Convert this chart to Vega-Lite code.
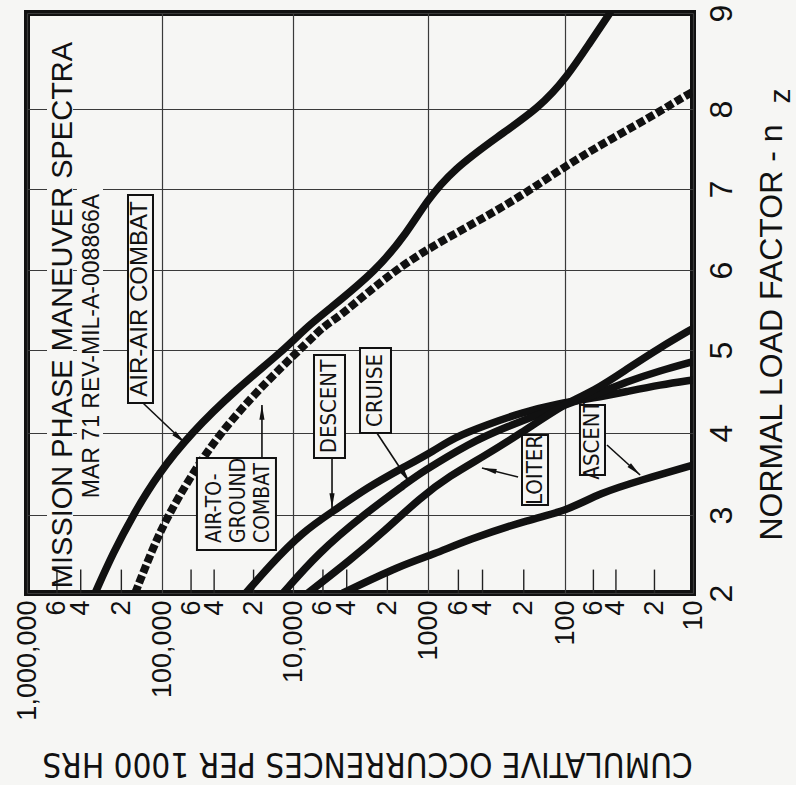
{
  "$schema": "https://vega.github.io/schema/vega-lite/v6.json",
  "width": 666,
  "height": 580,
  "autosize": {"type": "none"},
  "padding": {"left": 27, "top": 13, "right": 103, "bottom": 192},
  "background": "#f6f6f4",
  "config": {"view": {"stroke": "#111111", "strokeWidth": 6}, "font": "Liberation Sans"},
  "datasets": {
    "curves": [
      {"s": "AIR-AIR COMBAT", "N": 313000, "n": 2.0},
      {"s": "AIR-AIR COMBAT", "N": 230700, "n": 2.51},
      {"s": "AIR-AIR COMBAT", "N": 164000, "n": 3.0},
      {"s": "AIR-AIR COMBAT", "N": 107000, "n": 3.5},
      {"s": "AIR-AIR COMBAT", "N": 60000, "n": 4.0},
      {"s": "AIR-AIR COMBAT", "N": 27500, "n": 4.52},
      {"s": "AIR-AIR COMBAT", "N": 11700, "n": 5.0},
      {"s": "AIR-AIR COMBAT", "N": 8130, "n": 5.27},
      {"s": "AIR-AIR COMBAT", "N": 5500, "n": 5.5},
      {"s": "AIR-AIR COMBAT", "N": 2390, "n": 6.0},
      {"s": "AIR-AIR COMBAT", "N": 1430, "n": 6.46},
      {"s": "AIR-AIR COMBAT", "N": 1016, "n": 6.86},
      {"s": "AIR-AIR COMBAT", "N": 658, "n": 7.24},
      {"s": "AIR-AIR COMBAT", "N": 313, "n": 7.65},
      {"s": "AIR-AIR COMBAT", "N": 152, "n": 8.02},
      {"s": "AIR-AIR COMBAT", "N": 97, "n": 8.33},
      {"s": "AIR-AIR COMBAT", "N": 64, "n": 8.69},
      {"s": "AIR-AIR COMBAT", "N": 44.5, "n": 9.0},
      {"s": "AIR-TO-GROUND COMBAT", "N": 158000, "n": 2.0},
      {"s": "AIR-TO-GROUND COMBAT", "N": 118600, "n": 2.55},
      {"s": "AIR-TO-GROUND COMBAT", "N": 91600, "n": 2.97},
      {"s": "AIR-TO-GROUND COMBAT", "N": 61000, "n": 3.46},
      {"s": "AIR-TO-GROUND COMBAT", "N": 38000, "n": 3.95},
      {"s": "AIR-TO-GROUND COMBAT", "N": 20500, "n": 4.44},
      {"s": "AIR-TO-GROUND COMBAT", "N": 12300, "n": 4.79},
      {"s": "AIR-TO-GROUND COMBAT", "N": 7900, "n": 5.09},
      {"s": "AIR-TO-GROUND COMBAT", "N": 5800, "n": 5.31},
      {"s": "AIR-TO-GROUND COMBAT", "N": 4600, "n": 5.41},
      {"s": "AIR-TO-GROUND COMBAT", "N": 2760, "n": 5.73},
      {"s": "AIR-TO-GROUND COMBAT", "N": 1290, "n": 6.16},
      {"s": "AIR-TO-GROUND COMBAT", "N": 518, "n": 6.53},
      {"s": "AIR-TO-GROUND COMBAT", "N": 213, "n": 6.9},
      {"s": "AIR-TO-GROUND COMBAT", "N": 97, "n": 7.3},
      {"s": "AIR-TO-GROUND COMBAT", "N": 42, "n": 7.64},
      {"s": "AIR-TO-GROUND COMBAT", "N": 19, "n": 7.95},
      {"s": "AIR-TO-GROUND COMBAT", "N": 11.1, "n": 8.15},
      {"s": "AIR-TO-GROUND COMBAT", "N": 10, "n": 8.18},
      {"s": "DESCENT", "N": 22900, "n": 2.0},
      {"s": "DESCENT", "N": 15500, "n": 2.33},
      {"s": "DESCENT", "N": 8580, "n": 2.78},
      {"s": "DESCENT", "N": 4890, "n": 3.06},
      {"s": "DESCENT", "N": 2780, "n": 3.34},
      {"s": "DESCENT", "N": 1560, "n": 3.57},
      {"s": "DESCENT", "N": 889, "n": 3.79},
      {"s": "DESCENT", "N": 658, "n": 3.94},
      {"s": "DESCENT", "N": 371, "n": 4.1},
      {"s": "DESCENT", "N": 213, "n": 4.24},
      {"s": "DESCENT", "N": 109, "n": 4.36},
      {"s": "DESCENT", "N": 60, "n": 4.42},
      {"s": "DESCENT", "N": 32.8, "n": 4.5},
      {"s": "DESCENT", "N": 18.1, "n": 4.58},
      {"s": "DESCENT", "N": 10, "n": 4.64},
      {"s": "CRUISE", "N": 11900, "n": 2.0},
      {"s": "CRUISE", "N": 6530, "n": 2.51},
      {"s": "CRUISE", "N": 3030, "n": 3.0},
      {"s": "CRUISE", "N": 1406, "n": 3.4},
      {"s": "CRUISE", "N": 1146, "n": 3.51},
      {"s": "CRUISE", "N": 493, "n": 3.88},
      {"s": "CRUISE", "N": 284, "n": 4.06},
      {"s": "CRUISE", "N": 97, "n": 4.35},
      {"s": "CRUISE", "N": 60, "n": 4.45},
      {"s": "CRUISE", "N": 32.8, "n": 4.62},
      {"s": "CRUISE", "N": 18.1, "n": 4.75},
      {"s": "CRUISE", "N": 10, "n": 4.86},
      {"s": "LOITER", "N": 7740, "n": 2.0},
      {"s": "LOITER", "N": 3780, "n": 2.42},
      {"s": "LOITER", "N": 2080, "n": 2.8},
      {"s": "LOITER", "N": 1146, "n": 3.21},
      {"s": "LOITER", "N": 690, "n": 3.48},
      {"s": "LOITER", "N": 397, "n": 3.71},
      {"s": "LOITER", "N": 213, "n": 3.99},
      {"s": "LOITER", "N": 97, "n": 4.37},
      {"s": "LOITER", "N": 60, "n": 4.5},
      {"s": "LOITER", "N": 32.8, "n": 4.77},
      {"s": "LOITER", "N": 18.1, "n": 5.03},
      {"s": "LOITER", "N": 10, "n": 5.27},
      {"s": "ASCENT", "N": 4260, "n": 2.0},
      {"s": "ASCENT", "N": 1610, "n": 2.35},
      {"s": "ASCENT", "N": 890, "n": 2.5},
      {"s": "ASCENT", "N": 519, "n": 2.68},
      {"s": "ASCENT", "N": 177, "n": 2.95},
      {"s": "ASCENT", "N": 97, "n": 3.05},
      {"s": "ASCENT", "N": 53, "n": 3.27},
      {"s": "ASCENT", "N": 26, "n": 3.42},
      {"s": "ASCENT", "N": 10, "n": 3.61}
    ],
    "ticks": [
      {"v": 600000}, {"v": 400000}, {"v": 200000},
      {"v": 60000}, {"v": 40000}, {"v": 20000},
      {"v": 6000}, {"v": 4000}, {"v": 2000},
      {"v": 600}, {"v": 400}, {"v": 200},
      {"v": 60}, {"v": 40}, {"v": 20}
    ],
    "masks": [
      {"id": "title", "N1": 711000, "N2": 456000, "n1": 2.05, "n2": 8.72},
      {"id": "spec", "N1": 426600, "N2": 273500, "n1": 3.06, "n2": 7.05}
    ],
    "boxes": [
      {"id": "AIR-AIR COMBAT", "N1": 178600, "N2": 116600, "n1": 4.361, "n2": 6.926},
      {"id": "AIR-TO-GROUND COMBAT", "N1": 54100, "N2": 13490, "n1": 2.551, "n2": 3.695},
      {"id": "DESCENT", "N1": 6990, "N2": 4120, "n1": 3.695, "n2": 4.94},
      {"id": "CRUISE", "N1": 3190, "N2": 1880, "n1": 4.0, "n2": 5.025},
      {"id": "LOITER", "N1": 206, "N2": 133, "n1": 3.122, "n2": 3.976},
      {"id": "ASCENT", "N1": 76.4, "N2": 48.7, "n1": 3.488, "n2": 4.337}
    ],
    "arrows": [
      {"id": "AIR-AIR COMBAT", "N1": 138400, "n1": 4.361, "N2": 66700, "n2": 3.878, "ang": 131.6},
      {"id": "AIR-TO-GROUND COMBAT", "N1": 17260, "n1": 3.695, "N2": 17260, "n2": 4.337, "ang": 0},
      {"id": "DESCENT", "N1": 5140, "n1": 3.695, "N2": 5140, "n2": 3.085, "ang": 180},
      {"id": "CRUISE", "N1": 2390, "n1": 4.0, "N2": 1360, "n2": 3.39, "ang": 146.6},
      {"id": "LOITER", "N1": 220, "n1": 3.463, "N2": 404, "n2": 3.573, "ang": 284},
      {"id": "ASCENT", "N1": 47, "n1": 3.854, "N2": 25.9, "n2": 3.488, "ang": 132.3}
    ],
    "labels": [
      {"t": "DESCENT", "N": 5370, "n": 4.319},
      {"t": "CRUISE", "N": 2450, "n": 4.512},
      {"t": "LOITER", "N": 166, "n": 3.549},
      {"t": "ASCENT", "N": 61, "n": 3.915}
    ]
  },
  "layer": [
    {
      "data": {"name": "masks"},
      "mark": {"type": "rect", "fill": "#f6f6f4", "strokeWidth": 0},
      "encoding": {
        "x": {
          "field": "N1", "type": "quantitative",
          "scale": {"type": "log", "domain": [1000000, 100000, 10000, 1000, 100, 10], "range": [0, 135, 266, 401, 538, 666], "nice": false},
          "axis": {
            "values": [1000000, 600000, 400000, 200000, 100000, 60000, 40000, 20000, 10000, 6000, 4000, 2000, 1000, 600, 400, 200, 100, 60, 40, 20, 10],
            "labelExpr": "indexof([1000000,100000,10000], datum.value) >= 0 ? format(datum.value, ',') : (indexof([1000,100,10], datum.value) >= 0 ? format(datum.value, 'd') : format(round(datum.value / pow(10, floor(log(datum.value) / LN10 + 1e-9))), 'd'))",
            "labelAngle": 270, "labelAlign": "right", "labelBaseline": "middle",
            "labelFont": "Liberation Sans", "labelFontSize": 27, "labelColor": "#111111", "labelPadding": 7,
            "labelOverlap": false, "labelFlush": false, "labelBound": false,
            "ticks": false, "domain": false,
            "grid": true, "gridColor": "#3a3a3a", "gridWidth": 1.2,
            "gridOpacity": {"condition": {"test": "indexof([1000000,100000,10000,1000,100,10], datum.value) >= 0", "value": 1}, "value": 0},
            "title": "CUMULATIVE OCCURRENCES PER 1000 HRS",
            "titleFont": "Liberation Sans Narrow, DejaVu Sans Condensed, sans-serif", "titleFontSize": 33, "titleFontWeight": "normal", "titleColor": "#111111",
            "titleAngle": 180, "titleX": 340, "titleY": 169, "titleAlign": "center", "titleBaseline": "middle"
          }
        },
        "x2": {"field": "N2"},
        "y": {
          "field": "n1", "type": "quantitative",
          "scale": {"domain": [2, 3, 4, 5, 6, 7, 8, 9], "range": [580, 502, 420, 337, 257, 176, 96, 0], "nice": false, "zero": false},
          "axis": {
            "orient": "right",
            "values": [2, 3, 4, 5, 6, 7, 8, 9],
            "format": "d",
            "labelAngle": 270, "labelAlign": "center", "labelBaseline": "top",
            "labelFont": "Liberation Sans", "labelFontSize": 32, "labelColor": "#111111", "labelPadding": 13,
            "labelOverlap": false, "labelFlush": false, "labelBound": false,
            "ticks": false, "domain": false,
            "grid": true, "gridColor": "#3a3a3a", "gridWidth": 1.2,
            "title": "NORMAL LOAD FACTOR - n",
            "titleFont": "Liberation Sans", "titleFontSize": 32, "titleFontWeight": "normal", "titleColor": "#111111",
            "titleAngle": 270, "titleX": 78, "titleY": 319, "titleAlign": "center", "titleBaseline": "middle"
          }
        },
        "y2": {"field": "n2"}
      }
    },
    {
      "data": {"name": "ticks"},
      "mark": {"type": "rule", "color": "#222222", "strokeWidth": 1.4},
      "encoding": {
        "x": {"field": "v", "type": "quantitative"},
        "y": {"datum": 2},
        "y2": {"datum": 2.3}
      }
    },
    {
      "data": {"name": "curves"},
      "transform": [{"filter": "datum.s !== 'AIR-TO-GROUND COMBAT'"}],
      "mark": {"type": "line", "interpolate": "basis", "strokeWidth": 7.5, "color": "#111111", "strokeCap": "round", "clip": true},
      "encoding": {
        "x": {"field": "N", "type": "quantitative"},
        "y": {"field": "n", "type": "quantitative"},
        "detail": {"field": "s"}
      }
    },
    {
      "data": {"name": "curves"},
      "transform": [{"filter": "datum.s === 'AIR-TO-GROUND COMBAT'"}],
      "mark": {"type": "line", "interpolate": "basis", "strokeWidth": 8, "strokeDash": [8, 3], "color": "#111111", "strokeCap": "butt", "clip": true},
      "encoding": {
        "x": {"field": "N", "type": "quantitative"},
        "y": {"field": "n", "type": "quantitative"}
      }
    },
    {
      "data": {"name": "arrows"},
      "mark": {"type": "rule", "color": "#111111", "strokeWidth": 1.6},
      "encoding": {
        "x": {"field": "N1", "type": "quantitative"},
        "y": {"field": "n1", "type": "quantitative"},
        "x2": {"field": "N2"},
        "y2": {"field": "n2"}
      }
    },
    {
      "data": {"name": "arrows"},
      "mark": {"type": "point", "shape": "M0,0L0.42,2.4L-0.42,2.4Z", "filled": true, "color": "#111111", "size": 150, "opacity": 1, "strokeWidth": 0},
      "encoding": {
        "x": {"field": "N2", "type": "quantitative"},
        "y": {"field": "n2", "type": "quantitative"},
        "angle": {"field": "ang", "type": "quantitative", "scale": null}
      }
    },
    {
      "data": {"name": "boxes"},
      "mark": {"type": "rect", "fill": "#f6f6f4", "stroke": "#111111", "strokeWidth": 2},
      "encoding": {
        "x": {"field": "N1", "type": "quantitative"},
        "x2": {"field": "N2"},
        "y": {"field": "n1", "type": "quantitative"},
        "y2": {"field": "n2"}
      }
    },
    {
      "data": {"name": "labels"},
      "mark": {"type": "text", "angle": 270, "align": "center", "baseline": "middle", "font": "Liberation Sans Narrow, DejaVu Sans Condensed, sans-serif", "fontSize": 22, "color": "#111111"},
      "encoding": {
        "x": {"field": "N", "type": "quantitative"},
        "y": {"field": "n", "type": "quantitative"},
        "text": {"field": "t"}
      }
    },
    {
      "data": {"values": [{}]},
      "mark": {"type": "text", "text": ["AIR-TO-", "GROUND", "COMBAT"], "angle": 270, "align": "left", "baseline": "middle", "lineHeight": 24, "font": "Liberation Sans Narrow, DejaVu Sans Condensed, sans-serif", "fontSize": 21, "color": "#111111"},
      "encoding": {"x": {"datum": 39400}, "y": {"datum": 2.641}}
    },
    {
      "data": {"values": [{}]},
      "mark": {"type": "text", "text": "AIR-AIR COMBAT", "angle": 270, "align": "center", "baseline": "middle", "font": "Liberation Sans", "fontSize": 24, "color": "#111111"},
      "encoding": {"x": {"datum": 144300}, "y": {"datum": 5.638}}
    },
    {
      "data": {"values": [{}]},
      "mark": {"type": "text", "text": "MISSION PHASE MANEUVER SPECTRA", "angle": 270, "align": "center", "baseline": "middle", "font": "Liberation Sans", "fontSize": 29, "color": "#111111"},
      "encoding": {"x": {"datum": 541000}, "y": {"datum": 5.4375}}
    },
    {
      "data": {"values": [{}]},
      "mark": {"type": "text", "text": "MAR 71 REV-MIL-A-008866A", "angle": 270, "align": "center", "baseline": "middle", "font": "Liberation Sans", "fontSize": 23, "color": "#111111"},
      "encoding": {"x": {"datum": 330000}, "y": {"datum": 5.05}}
    },
    {
      "data": {"values": [{}]},
      "mark": {"type": "text", "text": "z", "angle": 270, "align": "center", "baseline": "middle", "font": "Liberation Sans", "fontSize": 30, "color": "#111111"},
      "encoding": {"x": {"datum": 2.05}, "y": {"datum": 8.135}}
    }
  ]
}
